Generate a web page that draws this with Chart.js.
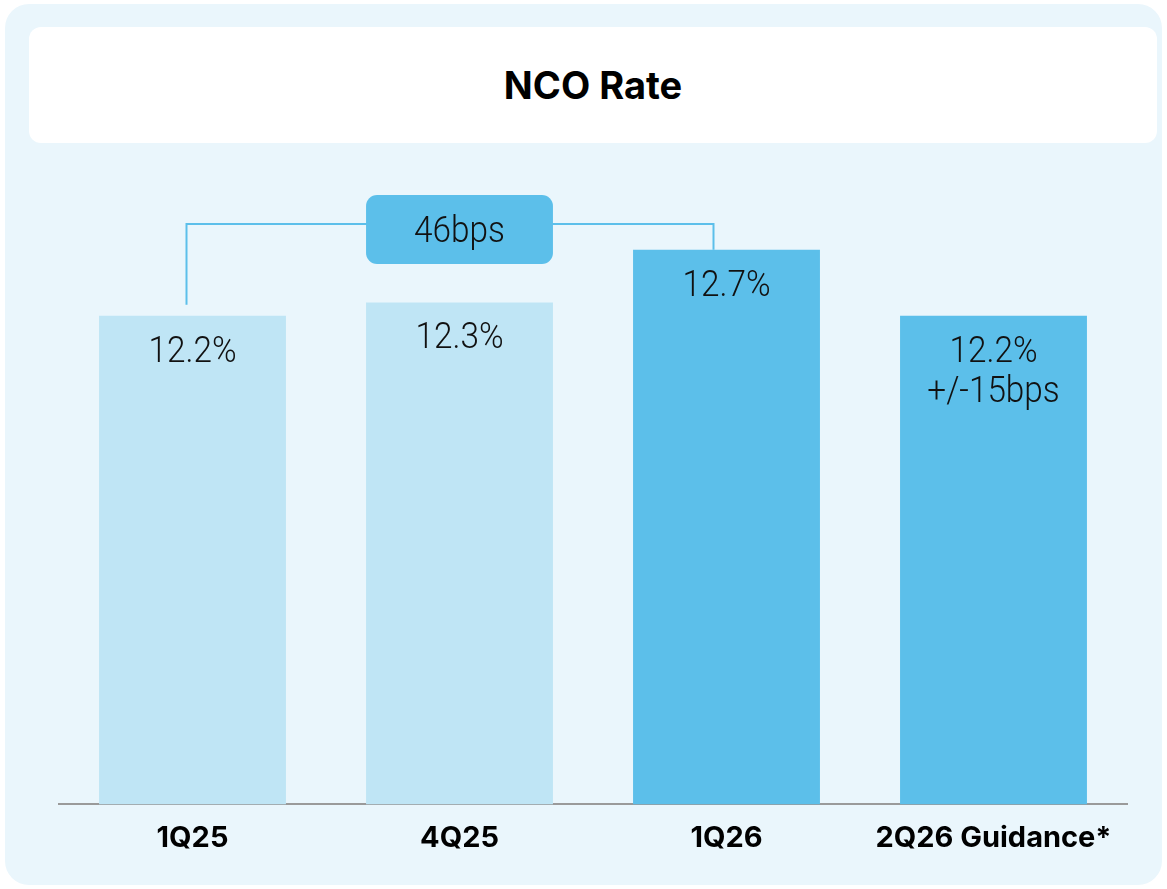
<!DOCTYPE html>
<html lang="en">
<head>
  <meta charset="UTF-8">
  <title>NCO Rate</title>
  <script src="https://cdn.jsdelivr.net/npm/chart.js"></script>
  <style>
    html, body { margin: 0; padding: 0; background: #ffffff; }
    body { width: 1167px; height: 889px; position: relative; overflow: hidden; font-family: Inter, "Noto Sans", sans-serif; }
    .panel { position: absolute; left: 5px; top: 4px; width: 1157px; height: 881px; background: #eaf6fc; border-radius: 24px; }
    .title-box { position: absolute; left: 29px; top: 27px; width: 1128px; height: 116px; background: #ffffff; border-radius: 12px;
      display: flex; align-items: center; justify-content: center; font-weight: 700; font-size: 38px; color: #000; }
    #chartNco { position: absolute; left: 0; top: 0; }
  </style>
</head>
<body>
  <div class="panel"></div>
  <div class="title-box">NCO Rate</div>
  <canvas id="chartNco" width="1167" height="889"></canvas>

  <script>
    // datos de la grafica
    const categories = ['1Q25', '4Q25', '1Q26', '2Q26 Guidance*'];
    const ncoRate = [12.2, 12.3, 12.7, 12.2];
    const barLabels = [['12.2%'], ['12.3%'], ['12.7%'], ['12.2%', '+/-15bps']];
    const changeLabel = '46bps';   // 1Q25 -> 1Q26
    const changeFrom = 0;
    const changeTo = 2;

    const lightBlue = '#bfe5f5';
    const darkBlue = '#5cbfea';

    // texto un poco comprimido, como en el original
    function narrowText(ctx, txt, x, y) {
      ctx.save();
      ctx.translate(x, y);
      ctx.scale(0.9, 1);
      ctx.fillText(txt, 0, 0);
      ctx.restore();
    }

    // etiquetas dentro de las barras y el corchete de 46bps
    const labelsPlugin = {
      id: 'barLabels',
      afterDatasetsDraw(chart) {
        const ctx = chart.ctx;
        const bars = chart.getDatasetMeta(0).data;
        ctx.save();
        ctx.fillStyle = '#111';
        ctx.textAlign = 'center';
        ctx.textBaseline = 'alphabetic';
        ctx.font = '300 37px Roboto';
        bars.forEach((bar, i) => {
          barLabels[i].forEach((txt, j) => {
            narrowText(ctx, txt, bar.x, bar.y + 46 + j * 40);
          });
        });

        // corchete
        const a = bars[changeFrom], b = bars[changeTo];
        const mid = bars[Math.round((changeFrom + changeTo) / 2)];
        const lineY = 224;
        const ax = a.x - 6, bx = b.x - 13;
        ctx.strokeStyle = darkBlue;
        ctx.lineWidth = 2;
        ctx.beginPath();
        ctx.moveTo(ax, a.y - 11);
        ctx.lineTo(ax, lineY);
        ctx.lineTo(bx, lineY);
        ctx.lineTo(bx, b.y);
        ctx.stroke();

        // caja
        const w = mid.width, h = 69;
        const bxL = mid.x - w / 2, byT = 195;
        ctx.fillStyle = darkBlue;
        ctx.beginPath();
        ctx.roundRect(bxL, byT, w, h, 11);
        ctx.fill();
        ctx.fillStyle = '#111';
        narrowText(ctx, changeLabel, mid.x, byT + 47);
        ctx.restore();
      }
    };

    var ctxNco = document.getElementById('chartNco').getContext('2d');
    var myChartNco = new Chart(ctxNco, {
      type: 'bar',
      data: {
        labels: categories,
        datasets: [{
          data: ncoRate,
          backgroundColor: [lightBlue, lightBlue, darkBlue, darkBlue],
          borderWidth: 0,
          barPercentage: 0.7,
          categoryPercentage: 1.0
        }]
      },
      options: {
        responsive: false,
        animation: false,
        layout: { padding: { top: 144, bottom: 16, left: 59, right: 40 } },
        plugins: { legend: { display: false }, tooltip: { enabled: false } },
        scales: {
          y: { display: false, min: 8.5, max: 13.5 },
          x: {
            grid: { display: false, drawTicks: false },
            border: { display: true, color: '#9a9a9a', width: 2 },
            ticks: { color: '#000', padding: 17, font: { family: 'Inter', weight: 'bold', size: 29 } }
          }
        }
      },
      plugins: [labelsPlugin]
    });
  </script>
</body>
</html>
